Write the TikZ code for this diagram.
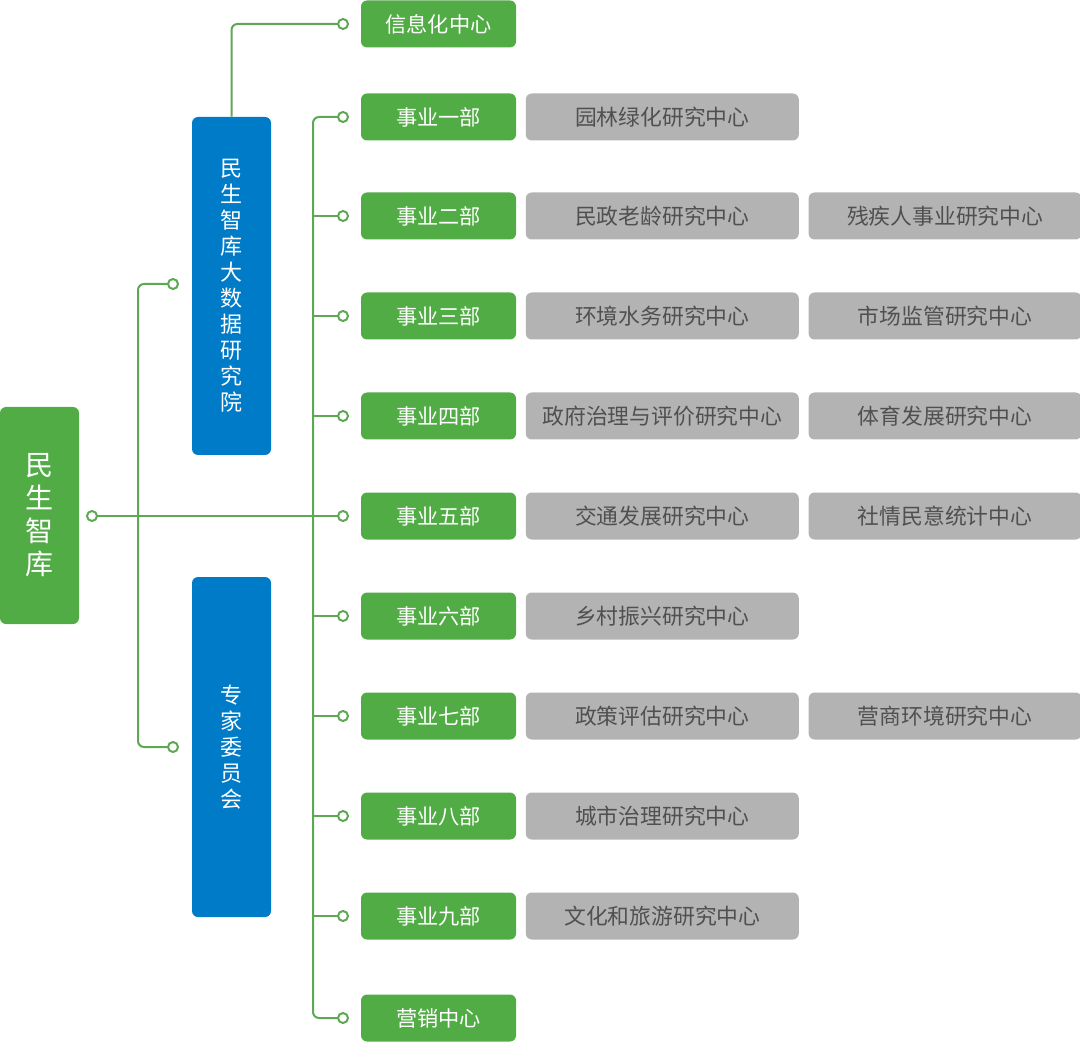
\documentclass[tikz,border=0pt]{standalone}
\usepackage{fontspec}
\setmainfont{Noto Sans CJK SC}
\usepackage{xcolor}
\usetikzlibrary{positioning}

\definecolor{zkgreen}{RGB}{82,172,70}
\definecolor{zkblue}{RGB}{0,123,200}
\definecolor{zkgray}{RGB}{179,179,179}
\definecolor{zktext}{RGB}{80,80,80}
\definecolor{zkline}{RGB}{94,168,84}

\begin{document}
\begin{tikzpicture}[
    x=0.5pt,y=-0.5pt,
    dept/.style={fill=zkgreen,rounded corners=3pt,text=white,inner sep=0pt,
      minimum width=77.5pt,minimum height=23.5pt,font=\fontsize{10.6}{12}\selectfont},
    ctr/.style={fill=zkgray,rounded corners=3pt,text=zktext,inner sep=0pt,
      minimum width=136.5pt,minimum height=23.5pt,font=\fontsize{10.9}{12}\selectfont},
    inst/.style={fill=zkblue,rounded corners=3pt,text=white,inner sep=0pt,align=center,
      minimum width=39.5pt,font=\fontsize{11}{13}\selectfont},
    dot/.style={circle,draw=zkline,fill=white,line width=1pt,inner sep=0pt,minimum size=5pt},
    link/.style={draw=zkline,line width=1pt,rounded corners=3pt},
    node distance=4.5pt
  ]
    \useasboundingbox (0,0) rectangle (1080,1042);
    % root
    \node[dept,align=center,minimum width=39.5pt,minimum height=108.5pt,
      font=\fontsize{14}{16.5}\selectfont] (root) at (39.5,515.5) {民\\生\\智\\库};
    \node[dot] (rootdot) at (92,516) {};
    % institutes
    \node[inst,minimum height=169pt] (inst1) at (231.5,286) {民\\生\\智\\库\\大\\数\\据\\研\\究\\院};
    \node[inst,minimum height=170pt] (inst2) at (231.5,747) {专\\家\\委\\员\\会};
    \node[dot] (inst1dot) at (173,284) {};
    \node[dot] (inst2dot) at (173,747) {};
    % departments
    \node[dept] (info) at (438.5,24) {信息化中心};
    \node[dot] (infodot) at (343,24) {};
    \foreach \i/\y/\name in {1/117/事业一部,2/216/事业二部,3/316/事业三部,4/416/事业四部,
      5/516/事业五部,6/616/事业六部,7/716/事业七部,8/816/事业八部,9/916/事业九部,10/1018/营销中心} {
      \node[dept] (d\i) at (438.5,\y) {\name};
      \node[dot] (d\i dot) at (343,\y) {};
    }
    % research centres
    \node[ctr,right=of d1] (c1a) {园林绿化研究中心};
    \node[ctr,right=of d2] (c2a) {民政老龄研究中心};
    \node[ctr,right=of c2a] (c2b) {残疾人事业研究中心};
    \node[ctr,right=of d3] (c3a) {环境水务研究中心};
    \node[ctr,right=of c3a] (c3b) {市场监管研究中心};
    \node[ctr,right=of d4] (c4a) {政府治理与评价研究中心};
    \node[ctr,right=of c4a] (c4b) {体育发展研究中心};
    \node[ctr,right=of d5] (c5a) {交通发展研究中心};
    \node[ctr,right=of c5a] (c5b) {社情民意统计中心};
    \node[ctr,right=of d6] (c6a) {乡村振兴研究中心};
    \node[ctr,right=of d7] (c7a) {政策评估研究中心};
    \node[ctr,right=of c7a] (c7b) {营商环境研究中心};
    \node[ctr,right=of d8] (c8a) {城市治理研究中心};
    \node[ctr,right=of d9] (c9a) {文化和旅游研究中心};
    % connectors
    \draw[link] (inst1dot.west) -- ++(-29,0) |- (inst2dot.west);
    \draw[link] (inst1.north) |- (infodot.west);
    \draw[link] (d1dot.west) -- ++(-24,0) |- (d10dot.west);
    \foreach \i in {2,...,9}
      \draw[link] (d\i dot.west) -- ++(-24,0);
    \draw[link] (rootdot.east) -- (d5dot.west);
  \end{tikzpicture}
\end{document}
